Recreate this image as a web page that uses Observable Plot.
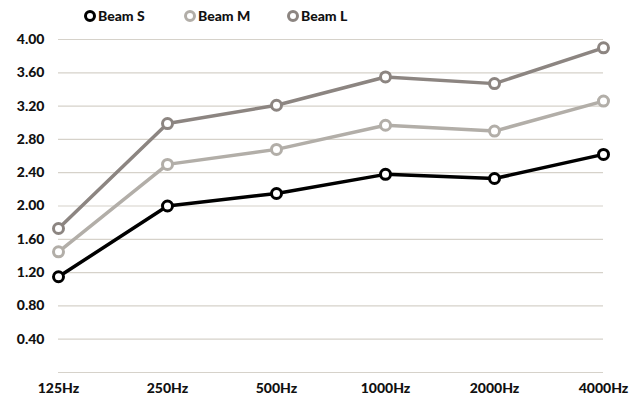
<!DOCTYPE html>
<html><head><meta charset="utf-8">
<script src="https://cdn.jsdelivr.net/npm/d3@7"></script>
<script src="https://cdn.jsdelivr.net/npm/@observablehq/plot@0.6"></script>
<style>
body{margin:0;background:#fff;font-family:Lato,"Open Sans",sans-serif;}
#wrap{position:relative;width:630px;height:400px;}
#legend{position:absolute;left:0;top:7px;width:630px;height:20px;font:900 14px Lato,sans-serif;color:#111;}
.item{position:absolute;display:flex;align-items:center;gap:2px;}
.sw{width:6px;height:6px;border-radius:50%;background:#fff;border-width:3px;border-style:solid;}
</style></head>
<body><div id="wrap"><div id="legend"></div><div id="chart"></div></div>
<script>
const frequencies = ["125Hz","250Hz","500Hz","1000Hz","2000Hz","4000Hz"];
const seriesNames = ["Beam S","Beam M","Beam L"];
const beamS = [1.15, 2.00, 2.15, 2.38, 2.33, 2.62];
const beamM = [1.45, 2.50, 2.68, 2.97, 2.90, 3.26];
const beamL = [1.73, 2.99, 3.21, 3.55, 3.47, 3.90];
const yTicks = [0.4, 0.8, 1.2, 1.6, 2.0, 2.4, 2.8, 3.2, 3.6, 4.0];
const gridValues = [0, 0.4, 0.8, 1.2, 1.6, 2.0, 2.4, 2.8, 3.2, 3.6, 4.0];
const colors = ["#000000", "#b2aea8", "#8c8581"];

const seriesValues = [beamS, beamM, beamL];
const data = [];
seriesNames.forEach((s, i) => frequencies.forEach((f, j) => data.push({series: s, freq: f, value: seriesValues[i][j]})));

const legendPos = [84, 184, 287];
const legend = document.getElementById("legend");
seriesNames.forEach((s, i) => {
  const d = document.createElement("div");
  d.className = "item";
  d.style.left = legendPos[i] + "px";
  d.innerHTML = `<span class="sw" style="border-color:${colors[i]}"></span><span>${s}</span>`;
  legend.appendChild(d);
});

const chart = Plot.plot({
  width: 630,
  height: 400,
  marginLeft: 58,
  marginRight: 27,
  marginTop: 39,
  marginBottom: 28,
  style: {fontFamily: "Lato, sans-serif", fontSize: "14px", fontWeight: "900", color: "#111"},
  x: {type: "point", domain: frequencies, padding: 0, label: null},
  y: {domain: [0, 4], label: null},
  color: {domain: seriesNames, range: colors},
  marks: [
    Plot.ruleY(gridValues, {stroke: "#d6d2ca", strokeWidth: 1.2}),
    Plot.axisY(yTicks, {tickFormat: d => d.toFixed(2), tickSize: 0, tickPadding: 14, fontSize: 14, fontWeight: "900"}),
    Plot.axisX({tickSize: 0, tickPadding: 11, fontSize: 14, fontWeight: "900"}),
    Plot.line(data, {x: "freq", y: "value", z: "series", stroke: "series", strokeWidth: 3.5}),
    Plot.dot(data, {x: "freq", y: "value", stroke: "series", fill: "white", r: 5, strokeWidth: 3})
  ]
});
document.getElementById("chart").appendChild(chart);
</script>
</body></html>
